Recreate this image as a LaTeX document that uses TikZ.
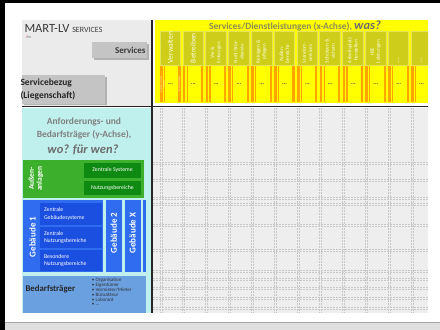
\documentclass[tikz,border=0pt]{standalone}
\usepackage{fontspec}
\setmainfont{Carlito}
\definecolor{hdrgray}{HTML}{EBEBEB}
\definecolor{gridbg}{HTML}{EEEEEE}
\definecolor{gridln}{HTML}{C8C8C8}
\definecolor{cyanbg}{HTML}{C0F0EE}
\definecolor{ylw}{HTML}{FFFF00}
\definecolor{khaki}{HTML}{CDCD1A}
\definecolor{khakiln}{HTML}{E4E45A}
\definecolor{orng}{HTML}{FFA500}
\definecolor{ttl}{HTML}{8C8C55}
\definecolor{gtxt}{HTML}{808080}
\definecolor{grnout}{HTML}{3CB02C}
\definecolor{grnin}{HTML}{0E8A12}
\definecolor{bluout}{HTML}{2F6CF0}
\definecolor{bluin}{HTML}{1A4FE0}
\definecolor{blult}{HTML}{6A9FE0}
\definecolor{boxgray}{HTML}{C4C4C4}
\definecolor{darktxt}{HTML}{3A3A3A}
\newcommand\fsz[2]{\fontsize{#1}{#2}\selectfont}
\begin{document}
\begin{tikzpicture}[x=1pt,y=-1pt,
  every node/.style={inner sep=0pt,outer sep=0pt},
  colbox/.style={fill=khaki,draw=khakiln,line width=0.5,minimum width=20.5,minimum height=34,anchor=north west},
  collab/.style={rotate=90,anchor=west,align=center,text=white!92!yellow},
  gridline/.style={draw=gridln,line width=0.7,dash pattern=on 2pt off 1pt},
  grnbox/.style={fill=grnin,text=white,font=\fsz{5.8}{7},minimum width=57,minimum height=14.5,anchor=north west},
  bluebox/.style={fill=bluin,text=white,font=\fsz{5.8}{7.2},align=left,text width=54,minimum height=21,anchor=north west,inner xsep=4},
  gebtxt/.style={rotate=90,text=white,font=\bfseries\fsz{9}{10}},
  graybox/.style={fill=boxgray,anchor=north west}]
\useasboundingbox (0,0) rectangle (440,330);
% frame of the screenshot
\fill[white] (0,0) rectangle (440,330);
\fill[black] (0,0) rectangle (5,330);
\fill[black] (0,0) rectangle (440,2.5);
\fill[black!12] (5,322) rectangle (440,330);
\draw[black!35,line width=0.8] (5,322) -- (440,322);
% backgrounds
\fill[hdrgray] (22,20) rectangle (151,106);
\fill[ylw] (155,20) rectangle (428,103);
\fill[gridbg] (153,108) rectangle (428,313);
\fill[cyanbg] (22,108) rectangle (151,313);
% top-left header
\node[anchor=base west,text=darktxt] (brand) at (24.5,32) {\fsz{12.5}{14}MART-LV \fsz{8}{9}SERVICES};
\node[anchor=west] (logo) at (26,37.5) {\fsz{4}{5}\textcolor{red!70}{i}\textcolor{gray}{fm}};
\fill[black!30] (93.5,43.5) rectangle (148.5,59.5);
\node[graybox,minimum width=55,minimum height=16] (svcbox) at (92,42) {};
\node[anchor=east,text=darktxt,font=\bfseries\fsz{9}{10}] (svctxt) at (145.5,50) {Services};
\fill[black!30] (23.5,76.5) rectangle (106.5,105);
\node[graybox,minimum width=83,minimum height=29] (sbbox) at (22,75) {};
\node[anchor=north west,align=left,text=black!85,font=\bfseries\fsz{9.5}{12.5}] (sbtxt) at (20.5,79) {Servicebezug\\(Liegenschaft)};
% x-axis title
\node[text=ttl] (xtitle) at (295,25.5) {\bfseries\fsz{9.5}{11}Services/Dienstleistungen (x-Achse), \textcolor{gtxt!85!black}{\itshape\fsz{12.5}{13}was?}};
% service columns
\begin{scope}
\clip (155,20) rectangle (428,103);
\foreach \i/\fs/\lab in {0/7.5/Verwalten,1/7.5/Betreiben,2/5.2/{Ver \&\\Entsorgen},3/5.2/{Notf./Stör-\\dienste},4/5.2/{Reinigen \&\\pflegen},5/5.2/{Außen-\\bereiche},6/5.2/{Standort-\\services},7/5.2/{Schützen \&\\sichern},8/5.2/{Arbeitsplatz\\herstellen},9/5.2/{HSE\\Leistungen},10/7/{...},11/7/{...}}{
  \pgfmathsetmacro\xa{160+22.82*\i}
  \node[colbox] (c\i) at (\xa,31) {};
  \node[collab,font=\fsz{\fs}{6.2}] (cl\i) at (\xa+10.25,63) {\lab};
  \fill[orng] (\xa,66) rectangle ++(2.6,36);
  \fill[orng] (\xa+3.8,66) rectangle ++(1.2,36);
  \fill[orng] (\xa+18.3,66) rectangle ++(2.2,36);
  \node[font=\bfseries\fsz{6}{6},text=black!75] (d\i) at (\xa+10.5,84) {...};
}
\end{scope}
\node[rotate=90,font=\fsz{2.2}{2.6},text=white,align=center] (s0a) at (162.5,84) {Eingangs- \& Folge-\\Services};
\node[rotate=90,font=\fsz{2.2}{2.6},text=white] (s0b) at (179.4,84) {Reine Leistungen};
% grid
\begin{scope}
\clip (153,108) rectangle (428,313);
\foreach \i in {0,...,11}{
  \pgfmathsetmacro\xa{160+22.82*\i}
  \draw[gridline] (\xa,108) -- (\xa,313);
  \draw[gridline] (\xa+2,108) -- (\xa+2,313);
}
\foreach \yy in {162,179,197,203,224,249,270,278,287,297,307}{
  \draw[gridline] (153,\yy) -- (428,\yy);
  \draw[gridline] (153,\yy+2) -- (428,\yy+2);
}
\end{scope}
% axes lines
\draw[black!85,line width=1.5] (152,20) -- (152,313);
\draw[black!85,line width=1.5] (22,106.5) -- (428,106.5);
% y-axis title
\node[align=center,text=gtxt,font=\bfseries\fsz{9.5}{12.5}] (ytitle) at (84,128.5) {Anforderungs- und\\Bedarfsträger (y-Achse),};
\node[text=gtxt!85!black,font=\bfseries\itshape\fsz{12.5}{14}] (ywo) at (83,150) {wo? für wen?};
% Aussenanlagen
\fill[grnout] (23,160) rectangle (144,197.5);
\node[rotate=90,text=white,align=center,font=\bfseries\fsz{7.5}{8}] (aa) at (36,178.5) {Außen-\\anlagen};
\node[grnbox] (zs) at (84,163) {Zentrale Systeme};
\node[grnbox] (nb) at (84,180.5) {Nutzungsbereiche};
% Gebaeude
\fill[bluout] (23,200) rectangle (103,272);
\fill[bluout] (106,200) rectangle (121.5,272);
\fill[bluout] (124.5,200) rectangle (140.5,272);
\fill[bluout] (142.5,200) rectangle (145.5,272);
\node[gebtxt] (g1) at (32.5,237) {Gebäude 1};
\node[gebtxt] (g2) at (113.8,233) {Gebäude 2};
\node[gebtxt] (gx) at (132.5,233) {Gebäude X};
\node[bluebox,minimum height=22] (zg) at (40,203) {Zentrale\\Gebäudesysteme};
\node[bluebox] (zn) at (40,227) {Zentrale\\Nutzungsbereiche};
\node[bluebox] (bn) at (40,250) {Besondere\\Nutzungsbereiche};
% Bedarfstraeger
\fill[blult] (23,276) rectangle (145.5,313);
\node[anchor=west,text=black!85,font=\bfseries\fsz{8.8}{10}] (bt) at (25.5,289) {Bedarfsträger};
\node[anchor=north west,align=left,text=black!80,font=\fsz{5}{4.8}] (btl) at (92,278.5) {\textbullet\ Organisation\\\textbullet\ Eigentümer\\\textbullet\ Vermieter/Mieter\\\textbullet\ Büroakteur\\\textbullet\ Laborant\\\textbullet\ ...};
\end{tikzpicture}
\end{document}
